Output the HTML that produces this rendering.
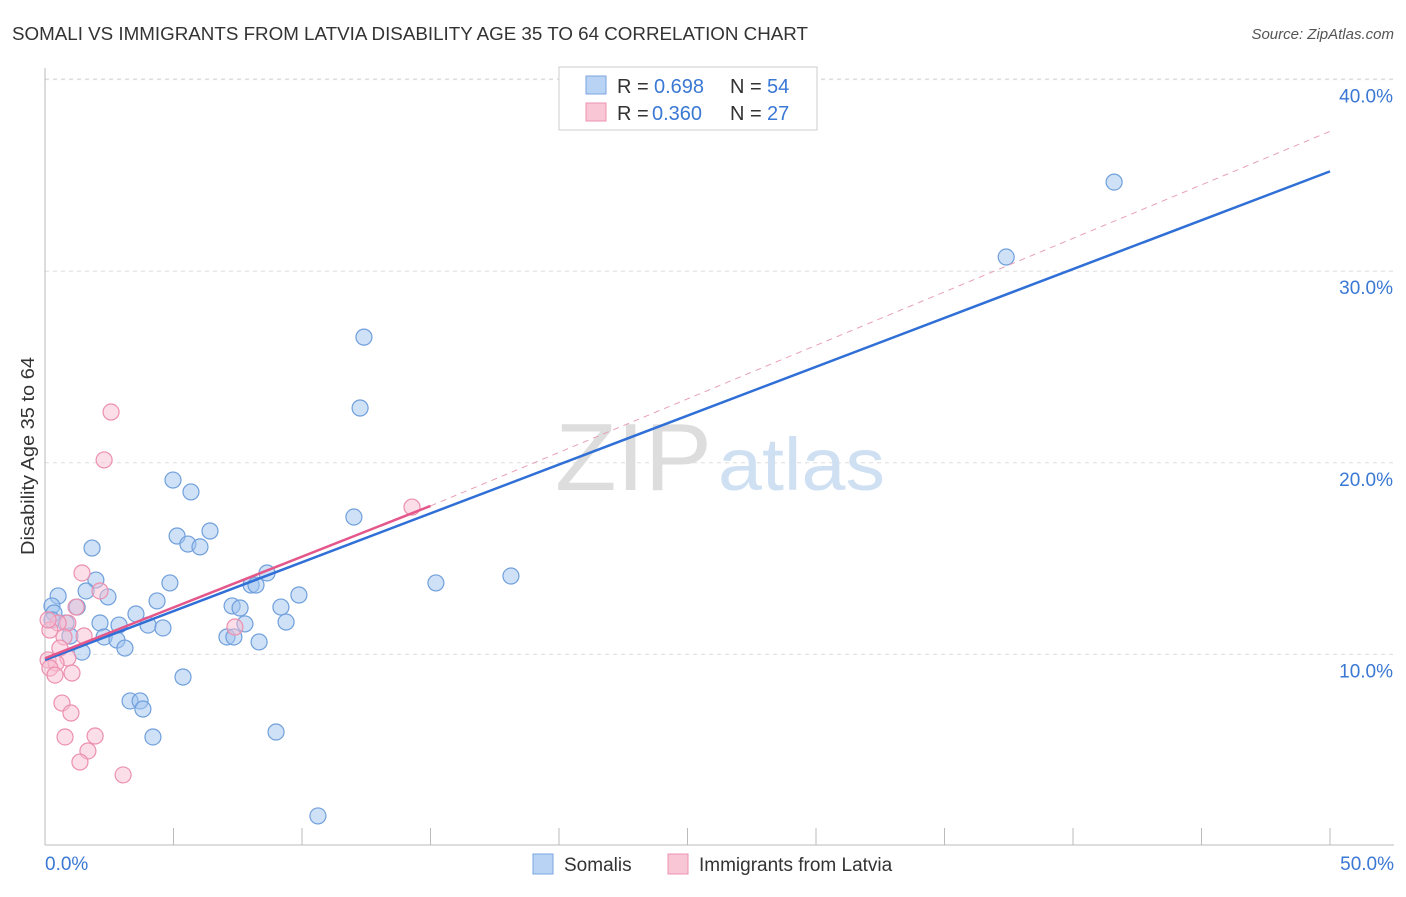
<!DOCTYPE html>
<html><head><meta charset="utf-8"><style>
body{margin:0;background:#fff;font-family:"Liberation Sans",sans-serif;}
svg text{font-family:"Liberation Sans",sans-serif;}
</style></head><body>
<svg id="chart" width="1406" height="892">
<text x="12" y="40" font-size="18" fill="#333" textLength="796" lengthAdjust="spacingAndGlyphs">SOMALI VS IMMIGRANTS FROM LATVIA DISABILITY AGE 35 TO 64 CORRELATION CHART</text>
<text x="1394" y="39" font-size="15" fill="#555" font-style="italic" text-anchor="end">Source: ZipAtlas.com</text>
<g id="grid"></g>
<g id="axes"></g>
<text x="555" y="490" font-size="96" fill="#ddd" textLength="157" lengthAdjust="spacingAndGlyphs" font-family="Liberation Serif">ZIP</text>
<text x="718" y="490" font-size="74" fill="#cfe0f3" textLength="167" lengthAdjust="spacingAndGlyphs">atlas</text>
<text transform="translate(34,456) rotate(-90)" font-size="18" fill="#333" text-anchor="middle" textLength="198" lengthAdjust="spacingAndGlyphs">Disability Age 35 to 64</text>
<g id="pts"></g>
<g id="lines"></g>
<g>
<rect x="559" y="67" width="258" height="63" fill="#fff" stroke="#ccc"/>
<rect x="586" y="76" width="20" height="18" fill="#b8d3f3" stroke="#7aa6e0"/>
<rect x="586" y="103" width="20" height="18" fill="#f9c6d6" stroke="#ee93b0"/>
<g font-size="20">
<text x="617" y="93" fill="#333">R =</text><text x="654" y="93" fill="#3a78d4">0.698</text>
<text x="730" y="93" fill="#333">N =</text><text x="767" y="93" fill="#3a78d4">54</text></g>
<g font-size="20">
<text x="617" y="120" fill="#333">R =</text><text x="652" y="120" fill="#3a78d4">0.360</text>
<text x="730" y="120" fill="#333">N =</text><text x="767" y="120" fill="#3a78d4">27</text></g>
</g>
<g>
<rect x="533" y="854" width="20" height="20" fill="#b8d3f3" stroke="#7aa6e0"/>
<text x="564" y="871" font-size="19" fill="#333">Somalis</text>
<rect x="668" y="854" width="20" height="20" fill="#f9c6d6" stroke="#ee93b0"/>
<text x="699" y="871" font-size="19" fill="#333">Immigrants from Latvia</text>
</g>
</svg>
<script>
const blueX=[41.6,37.4,12.41,12.26,4.98,5.68,12.02,6.42,5.14,5.56,6.03,1.83,18.13,15.21,8.64,1.98,4.86,8.02,8.21,0.51,1.60,2.45,9.88,4.36,7.28,7.59,9.18,0.27,0.35,1.25,3.54,9.38,7.78,2.14,2.88,4.01,4.59,0.97,2.30,7.08,7.35,2.80,3.11,8.33,1.44,5.37,3.31,3.70,3.81,4.20,8.99,10.62,0.82,0.27];
const blueY=[34.65,30.74,26.56,22.86,19.10,18.48,17.17,16.44,16.18,15.76,15.61,15.55,14.09,13.73,14.25,13.88,13.73,13.62,13.62,13.05,13.31,13.00,13.10,12.79,12.53,12.42,12.47,12.53,12.16,12.47,12.11,11.69,11.59,11.64,11.53,11.53,11.38,10.96,10.91,10.91,10.91,10.75,10.33,10.65,10.12,8.82,7.57,7.57,7.15,5.69,5.95,1.57,11.64,11.80];
const pinkX=[2.57,2.30,14.28,1.44,2.14,1.21,0.89,0.51,7.39,0.19,1.52,0.74,0.58,0.12,0.89,0.43,0.19,0.39,1.05,0.66,1.01,1.95,0.78,1.67,1.36,3.04,0.12];
const pinkY=[22.65,20.15,17.69,14.25,13.31,12.47,11.64,11.64,11.43,11.27,10.96,10.91,10.33,9.71,9.81,9.55,9.29,8.92,9.03,7.46,6.94,5.74,5.69,4.96,4.38,3.71,11.80];
const blueTrend=[9.71,0.51];   // intercept, slope
const pinkTrend=[9.8,0.53];
const pinkTrendEnd=15;
const yTicks=[10,20,30,40];
const yTickLabels=["10.0%","20.0%","30.0%","40.0%"];
const xTicks=[0,5,10,15,20,25,30,35,40,45,50];
const X0=45,X1=1330,YB=846,PPY=19.16;
const sx=v=>X0+(X1-X0)*v/50;
const sy=v=>YB-PPY*v;
const NS="http://www.w3.org/2000/svg";
function mk(parent,tag,attrs){const e=document.createElementNS(NS,tag);for(const k in attrs)e.setAttribute(k,attrs[k]);document.getElementById(parent).appendChild(e);return e;}
yTicks.forEach((t,i)=>{
  const l=mk('grid','line',{x1:45,x2:1394,y1:sy(t),y2:sy(t),stroke:'#ddd','stroke-dasharray':'4,4'});
  
  
  const tx=mk('grid','text',{x:1393,y:sy(t)+23,'font-size':19,fill:'#3a78d4','text-anchor':'end'});
  tx.textContent=yTickLabels[i];
  
  
});
const tl=mk('grid','line',{x1:45,x2:1394,y1:79,y2:79,stroke:'#ddd','stroke-dasharray':'4,4'});


const ax=mk('axes','line',{x1:45,x2:1394,y1:845,y2:845,stroke:'#bbb'});


const ay=mk('axes','line',{x1:45,x2:45,y1:68,y2:845,stroke:'#bbb'});


xTicks.forEach(t=>{
  const l=mk('axes','line',{x1:sx(t),x2:sx(t),y1:828,y2:845,stroke:'#bbb'});
  
  
});
const xl0=mk('axes','text',{x:45,y:870,'font-size':19,fill:'#3a78d4'});xl0.textContent='0.0%';


const xl1=mk('axes','text',{x:1394,y:870,'font-size':19,fill:'#3a78d4','text-anchor':'end'});xl1.textContent='50.0%';


blueX.forEach((v,i)=>{
  const c=mk('pts','circle',{cx:sx(v),cy:sy(blueY[i]),r:8,fill:'rgba(160,196,240,0.5)',stroke:'#6f9fdc','stroke-width':1.2});
  
  
});
pinkX.forEach((v,i)=>{
  const c=mk('pts','circle',{cx:sx(v),cy:sy(pinkY[i]),r:8,fill:'rgba(248,190,210,0.5)',stroke:'#ec8fae','stroke-width':1.2});
  
  
});
const pd=mk('lines','line',{x1:sx(pinkTrendEnd),y1:sy(pinkTrend[0]+pinkTrend[1]*pinkTrendEnd),x2:sx(50),y2:sy(pinkTrend[0]+0.55*50),stroke:'#e8a0b8','stroke-width':1,'stroke-dasharray':'6,5'});


const bl=mk('lines','line',{x1:sx(0),y1:sy(blueTrend[0]),x2:sx(50),y2:sy(blueTrend[0]+blueTrend[1]*50),stroke:'#2f6fd6','stroke-width':2.5});


const pl=mk('lines','line',{x1:sx(0),y1:sy(pinkTrend[0]),x2:sx(pinkTrendEnd),y2:sy(pinkTrend[0]+pinkTrend[1]*pinkTrendEnd),stroke:'#e4578a','stroke-width':2.5});


</script>
</body></html>
